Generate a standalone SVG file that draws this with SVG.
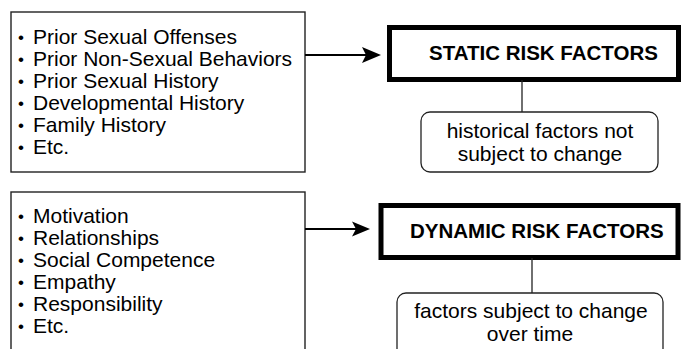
<svg xmlns="http://www.w3.org/2000/svg" width="684" height="349" viewBox="0 0 684 349">
<style>
.list{fill:#fff;stroke:#222;stroke-width:1.4}
.risk{fill:#fff;stroke:#000;stroke-width:5}
.note{fill:#fff;stroke:#222;stroke-width:1.3}
.t{font-family:"Liberation Sans",Arial,sans-serif;font-size:21px;fill:#000}
.b{font-size:17px}
.h{font-family:"Liberation Sans",Arial,sans-serif;font-size:20.5px;font-weight:bold;fill:#000}
.c{text-anchor:middle}
.ln{stroke:#000;stroke-width:2;fill:none}
.tn{stroke:#222;stroke-width:1.3;fill:none}
</style>
<rect width="684" height="349" fill="#fff"/>
<g id="static-list">
<rect class="list" x="11" y="12" width="294" height="160"/>
<text class="t" x="18" y="44"><tspan class="b" dy="-1">•</tspan><tspan x="33" dy="1">Prior Sexual Offenses</tspan></text>
<text class="t" x="18" y="66"><tspan class="b" dy="-1">•</tspan><tspan x="33" dy="1">Prior Non-Sexual Behaviors</tspan></text>
<text class="t" x="18" y="88"><tspan class="b" dy="-1">•</tspan><tspan x="33" dy="1">Prior Sexual History</tspan></text>
<text class="t" x="18" y="110"><tspan class="b" dy="-1">•</tspan><tspan x="33" dy="1">Developmental History</tspan></text>
<text class="t" x="18" y="132"><tspan class="b" dy="-1">•</tspan><tspan x="33" dy="1">Family History</tspan></text>
<text class="t" x="18" y="154"><tspan class="b" dy="-1">•</tspan><tspan x="33" dy="1">Etc.</tspan></text>
</g>
<g id="static-risk">
<rect class="risk" x="389.5" y="27.5" width="289" height="52"/>
<text class="h" x="429" y="60">STATIC RISK FACTORS</text>
</g>
<g id="static-note">
<rect class="note" x="421" y="112" width="237" height="60" rx="9"/>
<text class="t c" x="540" y="138">historical factors not</text>
<text class="t c" x="540" y="161">subject to change</text>
</g>
<g id="dynamic-list">
<rect class="list" x="11" y="192" width="294" height="170"/>
<text class="t" x="18" y="223"><tspan class="b" dy="-1">•</tspan><tspan x="33" dy="1">Motivation</tspan></text>
<text class="t" x="18" y="245"><tspan class="b" dy="-1">•</tspan><tspan x="33" dy="1">Relationships</tspan></text>
<text class="t" x="18" y="267"><tspan class="b" dy="-1">•</tspan><tspan x="33" dy="1">Social Competence</tspan></text>
<text class="t" x="18" y="289"><tspan class="b" dy="-1">•</tspan><tspan x="33" dy="1">Empathy</tspan></text>
<text class="t" x="18" y="311"><tspan class="b" dy="-1">•</tspan><tspan x="33" dy="1">Responsibility</tspan></text>
<text class="t" x="18" y="333"><tspan class="b" dy="-1">•</tspan><tspan x="33" dy="1">Etc.</tspan></text>
</g>
<g id="dynamic-risk">
<rect class="risk" x="381" y="205.5" width="297" height="52"/>
<text class="h" x="410" y="238">DYNAMIC RISK FACTORS</text>
</g>
<g id="dynamic-note">
<rect class="note" x="397" y="293" width="266" height="70" rx="9"/>
<text class="t c" x="531" y="318">factors subject to change</text>
<text class="t c" x="530" y="341">over time</text>
</g>
<g id="connectors">
<line class="ln" x1="305" y1="55" x2="366" y2="55"/>
<polygon points="381,55 362,47 366,55 362,63" fill="#000"/>
<line class="tn" x1="522" y1="80" x2="522" y2="112"/>
<line class="ln" x1="305" y1="229" x2="356" y2="229"/>
<polygon points="370,229 352,221.5 356,229 352,236.5" fill="#000"/>
<line class="tn" x1="532" y1="258" x2="532" y2="293"/>
</g>
</svg>
